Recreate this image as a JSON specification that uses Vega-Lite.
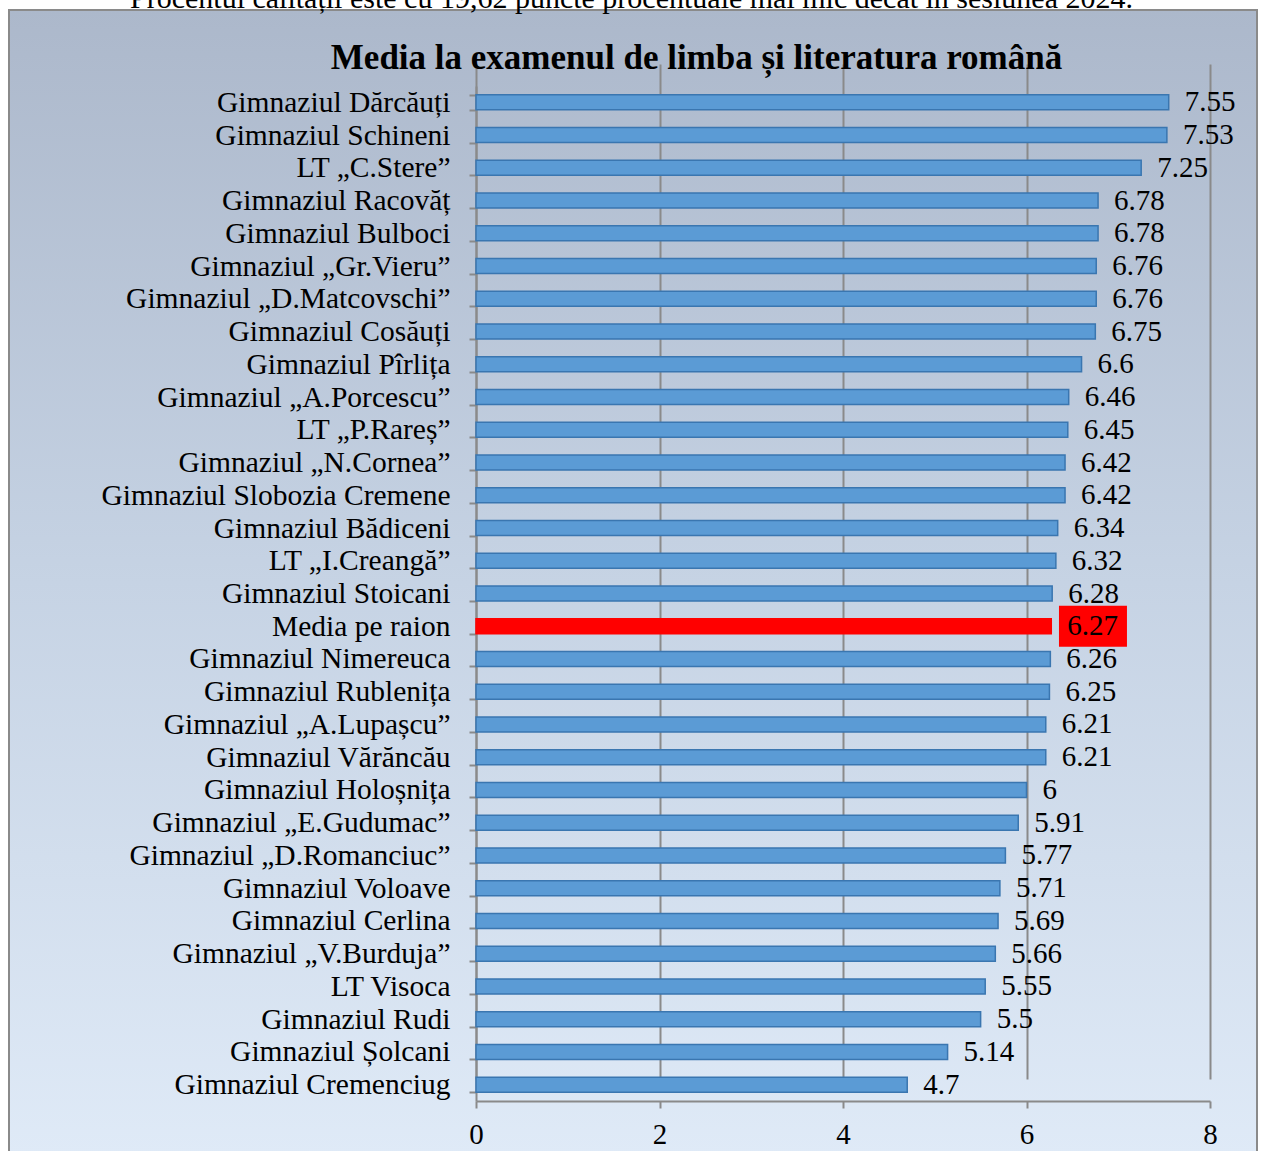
{
  "$schema": "https://vega.github.io/schema/vega-lite/v6.json",
  "width": 1248,
  "height": 1145,
  "autosize": {"type": "none"},
  "padding": {"left": 9, "top": 10, "right": 5, "bottom": 0},
  "background": "white",
  "config": {
    "font": "Liberation Serif",
    "view": {
      "fill": {"gradient": "linear", "x1": 0, "y1": 0, "x2": 0, "y2": 1,
        "stops": [{"offset": 0, "color": "#acb8cb"}, {"offset": 0.5, "color": "#c6d3e4"}, {"offset": 1, "color": "#dfeaf7"}]},
      "stroke": "#8a8a8a",
      "strokeWidth": 2
    }
  },
  "data": {
    "values": [
      {"name": "Gimnaziul Dărcăuți", "value": 7.55},
      {"name": "Gimnaziul Schineni", "value": 7.53},
      {"name": "LT „C.Stere”", "value": 7.25},
      {"name": "Gimnaziul Racovăț", "value": 6.78},
      {"name": "Gimnaziul Bulboci", "value": 6.78},
      {"name": "Gimnaziul „Gr.Vieru”\u00a0", "value": 6.76},
      {"name": "Gimnaziul „D.Matcovschi”", "value": 6.76},
      {"name": "Gimnaziul Cosăuți", "value": 6.75},
      {"name": "Gimnaziul Pîrlița", "value": 6.6},
      {"name": "Gimnaziul „A.Porcescu”", "value": 6.46},
      {"name": "LT „P.Rareș”", "value": 6.45},
      {"name": "Gimnaziul „N.Cornea”", "value": 6.42},
      {"name": "Gimnaziul Slobozia Cremene", "value": 6.42},
      {"name": "Gimnaziul Bădiceni", "value": 6.34},
      {"name": "LT „I.Creangă”", "value": 6.32},
      {"name": "Gimnaziul Stoicani", "value": 6.28},
      {"name": "Media pe raion", "value": 6.27},
      {"name": "Gimnaziul Nimereuca", "value": 6.26},
      {"name": "Gimnaziul Rublenița", "value": 6.25},
      {"name": "Gimnaziul „A.Lupașcu”", "value": 6.21},
      {"name": "Gimnaziul Vărăncău", "value": 6.21},
      {"name": "Gimnaziul Holoșnița", "value": 6},
      {"name": "Gimnaziul „E.Gudumac”", "value": 5.91},
      {"name": "Gimnaziul „D.Romanciuc”", "value": 5.77},
      {"name": "Gimnaziul Voloave", "value": 5.71},
      {"name": "Gimnaziul Cerlina", "value": 5.69},
      {"name": "Gimnaziul „V.Burduja”", "value": 5.66},
      {"name": "LT Visoca", "value": 5.55},
      {"name": "Gimnaziul Rudi", "value": 5.5},
      {"name": "Gimnaziul Șolcani", "value": 5.14},
      {"name": "Gimnaziul Cremenciug", "value": 4.7}
    ]
  },
  "encoding": {
    "y": {
      "field": "name",
      "type": "nominal",
      "sort": null,
      "scale": {"range": [76, 1091], "paddingInner": 0.542, "paddingOuter": 0.271},
      "axis": {
        "title": "Procentul calității este cu 19,62 puncte procentuale mai mic decât în sesiunea 2024.",
        "titleFont": "Liberation Serif",
        "titleFontSize": 30,
        "titleFontWeight": "normal",
        "titleColor": "black",
        "titleAngle": 0,
        "titleX": 155,
        "titleY": -3,
        "titleAlign": "center",
        "titleBaseline": "alphabetic",
        "offset": -467,
        "domain": true,
        "domainColor": "#8a8a8a",
        "domainWidth": 2,
        "ticks": true,
        "tickBand": "extent",
        "tickSize": 7,
        "tickColor": "#8a8a8a",
        "tickWidth": 2,
        "grid": false,
        "labelFont": "Liberation Serif",
        "labelFontSize": 29.5,
        "labelColor": "black",
        "labelPadding": 19,
        "labelLimit": 600
      }
    },
    "x": {
      "field": "value",
      "type": "quantitative",
      "scale": {"domain": [0, 8], "range": [467, 1201], "nice": false, "zero": false},
      "axis": {
        "title": "Media la examenul de limba și literatura română",
        "titleFont": "Liberation Serif",
        "titleFontSize": 35,
        "titleFontWeight": "bold",
        "titleColor": "black",
        "titleX": 687,
        "titleY": -1033,
        "titleAlign": "center",
        "titleBaseline": "alphabetic",
        "offset": -54,
        "values": [0, 2, 4, 6, 8],
        "grid": true,
        "gridColor": "#8a8a8a",
        "gridWidth": 2,
        "domain": true,
        "domainColor": "#8a8a8a",
        "domainWidth": 2,
        "ticks": true,
        "tickSize": 7,
        "tickColor": "#8a8a8a",
        "tickWidth": 2,
        "labelFont": "Liberation Serif",
        "labelFontSize": 29,
        "labelColor": "black",
        "labelPadding": 12,
        "labelFlush": false,
        "labelOverlap": false
      }
    }
  },
  "layer": [
    {
      "mark": {"type": "bar", "strokeWidth": 1.5},
      "encoding": {
        "color": {"condition": {"test": "datum.name === 'Media pe raion'", "value": "#ff0000"}, "value": "#5b9bd5"},
        "stroke": {"condition": {"test": "datum.name === 'Media pe raion'", "value": "#ff0000"}, "value": "#3a76b0"}
      }
    },
    {
      "transform": [{"filter": "datum.name === 'Media pe raion'"}],
      "mark": {"type": "bar", "color": "#ff0000", "height": {"band": 2.73}},
      "encoding": {
        "x": {"datum": 6.354},
        "x2": {"datum": 7.095}
      }
    },
    {
      "mark": {"type": "text", "align": "left", "dx": 16, "baseline": "middle", "fontSize": 29, "font": "Liberation Serif", "color": "black"},
      "encoding": {
        "text": {"field": "value", "type": "nominal"}
      }
    }
  ]
}
